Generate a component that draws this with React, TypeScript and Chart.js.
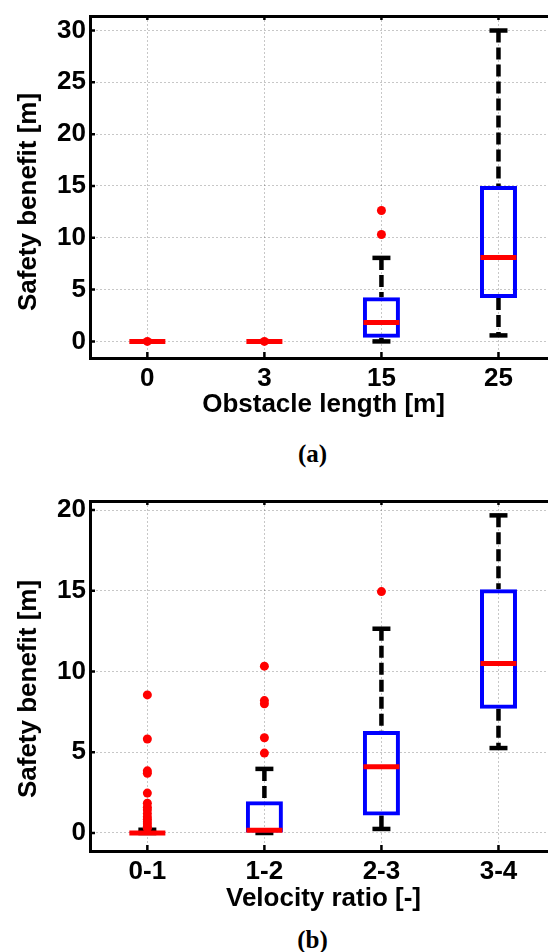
import React, { useEffect, useRef } from 'react';
import { Chart, registerables } from 'chart.js';

Chart.register(...registerables);

// ---- Panel (a): Obstacle length ----
const catsA = ['0', '3', '15', '25'];
const lowA = [0, 0, 0, 0.58];
const q1A = [0, 0, 0.35, 4.2];
const medA = [0, 0, 1.83, 8.1];
const q3A = [0, 0, 4.25, 15.0];
const highA = [0, 0, 8.06, 30.0];
const outA = [[0], [0], [10.32, 12.63], []];

// ---- Panel (b): Velocity ratio ----
const catsB = ['0-1', '1-2', '2-3', '3-4'];
const lowB = [0, 0, 0.25, 5.26];
const q1B = [0, 0, 1.08, 7.7];
const medB = [0, 0.17, 4.1, 10.5];
const q3B = [0.07, 1.97, 6.32, 15.09];
const highB = [0.2, 3.97, 12.65, 19.67];
const outB = [
  [8.55, 5.82, 3.85, 3.7, 2.47, 1.84, 1.6, 1.43, 1.2, 1.0, 0.85, 0.7, 0.55, 0.4, 0.3],
  [10.33, 8.2, 8.0, 5.9, 4.95],
  [14.95],
  [],
];

const SANS = '"Liberation Sans", Arial, Helvetica, sans-serif';
const SERIF = '"Liberation Serif", "Times New Roman", Times, serif';

const inwardTicks = {
  id: 'inwardTicks',
  afterDraw(chart: any) {
    const { ctx, chartArea: a, scales } = chart;
    const x = scales.x;
    const y = scales.y;
    ctx.save();
    ctx.strokeStyle = '#000';
    ctx.lineWidth = 2.5;
    ctx.beginPath();
    x.ticks.forEach((t: any) => {
      const px = x.getPixelForValue(t.value);
      ctx.moveTo(px, a.bottom);
      ctx.lineTo(px, a.bottom - 6);
      ctx.moveTo(px, a.top);
      ctx.lineTo(px, a.top + 4);
    });
    y.ticks.forEach((t: any) => {
      const py = y.getPixelForValue(t.value);
      ctx.moveTo(a.left, py);
      ctx.lineTo(a.left + 5, py);
    });
    ctx.stroke();
    ctx.restore();
  },
};

type Props = {
  cats: string[];
  low: number[];
  q1: number[];
  med: number[];
  q3: number[];
  high: number[];
  out: number[][];
  yMin: number;
  yMax: number;
  xTitle: string;
  width: number;
  height: number;
  padTop: number;
  xAxisH: number;
  top: number;
};

function BoxChart(p: Props) {
  const ref = useRef<HTMLCanvasElement | null>(null);
  useEffect(() => {
    if (!ref.current) return;
    const xs = p.cats.map((_, i) => i + 1);
    const whiskers: any[] = [];
    xs.forEach((x, i) => {
      whiskers.push({ x, y: p.high[i] }, { x, y: p.q3[i] }, { x, y: null });
      whiskers.push({ x, y: p.q1[i] }, { x, y: p.low[i] }, { x, y: null });
    });
    const caps: any[] = [];
    xs.forEach((x, i) => {
      caps.push({ x, y: p.low[i] }, { x, y: p.high[i] });
    });
    const outliers: any[] = [];
    xs.forEach((x, i) => p.out[i].forEach((v) => outliers.push({ x, y: v })));

    const gridCommon = {
      color: 'rgba(0,0,0,0.22)',
      lineWidth: 1,
      drawTicks: false,
    };

    const chart = new Chart(ref.current, {
      type: 'bar',
      data: {
        datasets: [
          {
            type: 'scatter',
            data: outliers,
            pointStyle: 'circle',
            pointRadius: 4.5,
            pointBackgroundColor: '#ff0000',
            pointBorderWidth: 0,
          } as any,
          {
            type: 'scatter',
            data: xs.map((x, i) => ({ x, y: p.med[i] })),
            pointStyle: 'line',
            pointRadius: 18,
            pointBorderWidth: 5,
            pointBorderColor: '#ff0000',
            pointBackgroundColor: '#ff0000',
          } as any,
          {
            type: 'bar',
            data: xs.map((x, i) => ({ x, y: [p.q1[i], p.q3[i]] })),
            backgroundColor: 'rgba(0,0,0,0)',
            borderColor: '#0000ff',
            borderWidth: 4,
            borderSkipped: false,
            barThickness: 37,
            inflateAmount: 0,
          } as any,
          {
            type: 'scatter',
            data: caps,
            pointStyle: 'line',
            pointRadius: 9,
            pointBorderWidth: 4.5,
            pointBorderColor: '#000',
            pointBackgroundColor: '#000',
          } as any,
          {
            type: 'line',
            data: whiskers,
            borderColor: '#000',
            borderWidth: 4.5,
            borderDash: [12, 5],
            borderCapStyle: 'butt',
            pointRadius: 0,
            spanGaps: false,
            fill: false,
          } as any,
        ],
      },
      options: {
        responsive: false,
        animation: false,
        events: [],
        layout: { autoPadding: false, padding: { left: 0, top: p.padTop, right: 3, bottom: 0 } },
        plugins: { legend: { display: false }, tooltip: { enabled: false } },
        scales: {
          x: {
            type: 'linear',
            position: 'bottom',
            min: 0.51,
            max: 4.5,
            offset: false,
            grid: { ...gridCommon, offset: false },
            border: { display: true, width: 3, color: '#000', dash: [2, 2] },
            ticks: {
              stepSize: 1,
              includeBounds: false,
              autoSkip: false,
              maxRotation: 0,
              padding: 5,
              color: '#000',
              font: { family: SANS, size: 26, weight: 'bold', lineHeight: 1.2 },
              callback: (v: any) => {
                const n = Number(v);
                return Number.isInteger(n) && p.cats[n - 1] !== undefined ? p.cats[n - 1] : '';
              },
            },
            title: {
              display: true,
              text: p.xTitle,
              color: '#000',
              padding: { top: 0, bottom: 6 },
              font: { family: SANS, size: 26, weight: 'bold', lineHeight: 1.2 },
            },
            afterFit: (s: any) => {
              s.height = p.xAxisH;
              s.paddingLeft = 0;
              s.paddingRight = 0;
            },
          } as any,
          x2: {
            type: 'linear',
            position: 'top',
            min: 0.51,
            max: 4.5,
            grid: { display: false, drawTicks: false },
            border: { display: true, width: 3, color: '#000' },
            ticks: { display: false },
            afterFit: (s: any) => {
              s.height = 0;
              s.paddingLeft = 0;
              s.paddingRight = 0;
            },
          } as any,
          y: {
            type: 'linear',
            position: 'left',
            min: p.yMin,
            max: p.yMax,
            grid: { ...gridCommon },
            border: { display: true, width: 3, color: '#000', dash: [2, 2] },
            ticks: {
              stepSize: 5,
              includeBounds: false,
              padding: 4,
              color: '#000',
              font: { family: SANS, size: 26, weight: 'bold', lineHeight: 1.2 },
            },
            afterFit: (s: any) => {
              s.width = 90;
              s.paddingTop = 0;
              s.paddingBottom = 0;
            },
          } as any,
        },
      } as any,
      plugins: [inwardTicks as any],
    });
    return () => chart.destroy();
  }, []);
  return (
    <canvas
      ref={ref}
      width={p.width}
      height={p.height}
      style={{ position: 'absolute', left: 0, top: p.top, width: p.width, height: p.height }}
    />
  );
}

function YTitle({ cx, cy, text }: { cx: number; cy: number; text: string }) {
  return (
    <div
      style={{
        position: 'absolute',
        left: cx - 150,
        top: cy - 15,
        width: 300,
        height: 30,
        lineHeight: '30px',
        textAlign: 'center',
        whiteSpace: 'nowrap',
        transform: 'rotate(-90deg)',
        fontFamily: SANS,
        fontWeight: 'bold',
        fontSize: 26,
        color: '#000',
      }}
    >
      {text}
    </div>
  );
}

function Caption({ cy, text }: { cy: number; text: string }) {
  return (
    <div
      style={{
        position: 'absolute',
        left: 262.5,
        top: cy - 17,
        width: 100,
        height: 30,
        lineHeight: '30px',
        textAlign: 'center',
        fontFamily: SERIF,
        fontWeight: 'bold',
        fontSize: 25,
        color: '#000',
      }}
    >
      {text}
    </div>
  );
}

export default function App() {
  return (
    <div
      style={{
        position: 'absolute',
        left: 0,
        top: 0,
        width: 548,
        height: 952,
        overflow: 'hidden',
        background: '#fff',
      }}
    >
      <BoxChart
        cats={catsA}
        low={lowA}
        q1={q1A}
        med={medA}
        q3={q3A}
        high={highA}
        out={outA}
        yMin={-1.6}
        yMax={31.4}
        xTitle="Obstacle length [m]"
        width={560}
        height={426}
        padTop={16}
        xAxisH={68}
        top={0}
      />
      <YTitle cx={26.5} cy={201.5} text="Safety benefit [m]" />
      <Caption cy={456} text="(a)" />
      <BoxChart
        cats={catsB}
        low={lowB}
        q1={q1B}
        med={medB}
        q3={q3B}
        high={highB}
        out={outB}
        yMin={-1.115}
        yMax={20.56}
        xTitle="Velocity ratio [-]"
        width={560}
        height={440}
        padTop={21}
        xAxisH={69}
        top={480}
      />
      <YTitle cx={26.5} cy={689} text="Safety benefit [m]" />
      <Caption cy={942} text="(b)" />
    </div>
  );
}
